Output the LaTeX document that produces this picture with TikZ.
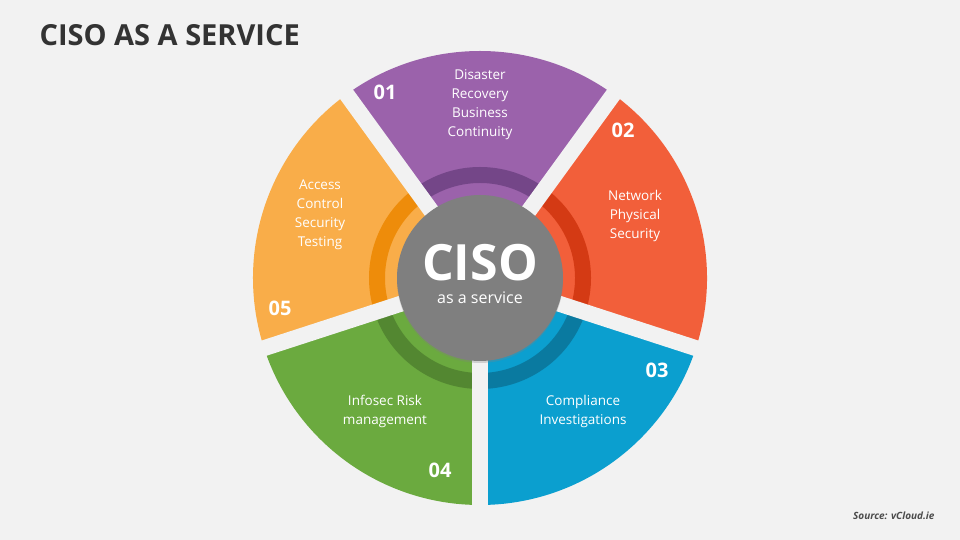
\documentclass[tikz,border=0pt]{standalone}
\usepackage{fontspec}
\setmainfont{Open Sans}
\usetikzlibrary{shadows}
\definecolor{bg}{HTML}{F2F2F2}
\definecolor{purp}{HTML}{9B62AB}
\definecolor{purpd}{HTML}{744688}
\definecolor{redo}{HTML}{F25F3A}
\definecolor{redod}{HTML}{D43A14}
\definecolor{blu}{HTML}{0B9FCF}
\definecolor{blud}{HTML}{0A7AA0}
\definecolor{grn}{HTML}{6BAA3F}
\definecolor{grnd}{HTML}{538731}
\definecolor{org}{HTML}{F9AD49}
\definecolor{orgd}{HTML}{EE8C0A}
\definecolor{hub}{HTML}{7F7F7F}
\tikzset{
  label/.style={text=white, align=center, font=\fontsize{13.5}{19}\selectfont},
  num/.style={text=white, font=\fontsize{20}{20}\selectfont\bfseries},
  gap/.style={draw=bg, line width=16pt}
}
\begin{document}
\begin{tikzpicture}[x=1pt, y=1pt]
    \fill[bg] (0,0) rectangle (960,540);
    \useasboundingbox (0,0) rectangle (960,540);
    \coordinate (c) at (480,262);

    % Segmente
    \foreach \a/\col in {54/purp, 342/redo, 270/blu, 198/grn, 126/org} {
      \pgfmathsetmacro{\b}{\a+72}
      \fill[\col] (c) -- +(\a:227) arc[start angle=\a, end angle=\b, radius=227] -- cycle;
      \fill[\col d] ([shift={(\a:111)}]c) arc[start angle=\a, end angle=\b, radius=111]
        -- ([shift={(\b:95)}]c) arc[start angle=\b, end angle=\a, radius=95] -- cycle;
    }

    % Luecken
    \foreach \g in {270, 342, 54, 126, 198}
      \draw[gap] (c) -- +(\g:240);

    % Mitte
    \fill[hub, drop shadow={shadow xshift=0pt, shadow yshift=-2pt, opacity=0.3}] (c) circle (83);
    \node[text=white, font=\fontsize{50}{50}\selectfont\bfseries] (ciso) at (480,277) {CISO};
    \node[text=white, font=\fontsize{16}{16}\selectfont] (svc) at (480,242) {as a service};

    % Texte
    \node[label] (t1) at (480,435) {Disaster\\Recovery\\Business\\Continuity};
    \node[label] (t2) at (635,324) {Network\\Physical\\Security};
    \node[label] (t3) at (583,129) {Compliance\\Investigations};
    \node[label] (t4) at (385,129) {Infosec Risk\\management};
    \node[label] (t5) at (320,325) {Access\\Control\\Security\\Testing};

    % Nummern
    \node[num] (n1) at (385,448) {01};
    \node[num] (n2) at (623,410) {02};
    \node[num] (n3) at (657,170) {03};
    \node[num] (n4) at (440,70) {04};
    \node[num] (n5) at (280,232) {05};

    % Titel und Quelle
    \node[anchor=west, text=black!80, font=\fontsize{29}{29}\selectfont\bfseries] (title) at (36,505) {CISO AS A SERVICE};
    \node[anchor=east, text=black!70, font=\fontsize{10}{10}\selectfont\bfseries\itshape] (src) at (938,24) {Source: vCloud.ie};
\end{tikzpicture}
\end{document}
